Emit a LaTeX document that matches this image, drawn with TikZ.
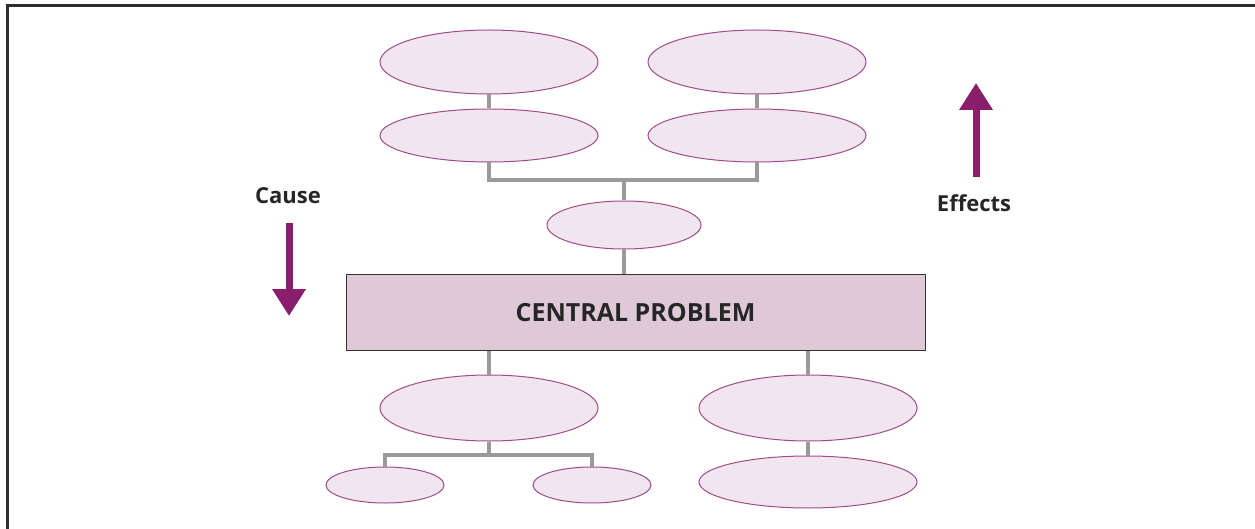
\documentclass[tikz,border=0pt]{standalone}
\usepackage{fontspec}
\setmainfont{Open Sans}
\usepackage{xcolor}
\usetikzlibrary{arrows.meta,shapes.geometric,positioning}

\definecolor{plum}{HTML}{8A1E6C}
\definecolor{plumline}{HTML}{A24B8A}
\definecolor{plumfill}{HTML}{F1E6EF}
\definecolor{boxfill}{HTML}{DFC9D6}
\definecolor{linkgrey}{HTML}{9A9A9C}
\definecolor{framegrey}{HTML}{2E2E2E}

\tikzset{
  bubble/.style={ellipse, draw=plumline, fill=plumfill, line width=1pt, inner sep=0pt},
  link/.style={draw=linkgrey, line width=3.5pt},
  bigarrow/.style={draw=plum, line width=7pt, -{Triangle[width=32pt,length=27pt]}},
  caption/.style={font=\bfseries\fontsize{22}{26}\selectfont, text=black!85}
}

\begin{document}
\begin{tikzpicture}[x=1pt,y=-1pt]
  \useasboundingbox (0,0) rectangle (1255,529);
  % frame
  \draw[framegrey, line width=2.5pt] (7.5,529) -- (7.5,5.5) -- (1255,5.5);

  % effects side
  \node[bubble, minimum width=218pt, minimum height=64pt] (e1) at (489,62) {};
  \node[bubble, minimum width=218pt, minimum height=64pt] (e2) at (757,62) {};
  \node[bubble, minimum width=218pt, minimum height=53pt] (e3) at (489,135.5) {};
  \node[bubble, minimum width=218pt, minimum height=53pt] (e4) at (757,135.5) {};
  \node[bubble, minimum width=154pt, minimum height=48pt] (e5) at (624,225) {};

  % central problem
  \node[draw=black!80, fill=boxfill, line width=1pt, minimum width=579pt, minimum height=75pt,
        font=\bfseries\fontsize{25}{30}\selectfont, text=black!85] (cp) at (635.5,312.5) {CENTRAL PROBLEM};

  % cause side
  \node[bubble, minimum width=218pt, minimum height=66pt] (c1) at (489,408) {};
  \node[bubble, minimum width=218pt, minimum height=66pt] (c2) at (808,408) {};
  \node[bubble, minimum width=118pt, minimum height=36pt] (c3) at (385,485) {};
  \node[bubble, minimum width=118pt, minimum height=36pt] (c4) at (592,485) {};
  \node[bubble, minimum width=218pt, minimum height=52pt] (c5) at (808,482) {};

  % links
  \path[link] (e1) -- (e3);
  \path[link] (e2) -- (e4);
  \path[link] (e3.south) |- (624,180) -| (e4.south);
  \path[link] (624,180) -- (e5.north);
  \path[link] (e5.south) -- (e5.south |- cp.north);
  \path[link] (c1.north) -- (c1.north |- cp.south);
  \path[link] (c2.north) -- (c2.north |- cp.south);
  \path[link] (c1.south) -- (489,455);
  \path[link] (c3.north) |- (489,455) -| (c4.north);
  \path[link] (c2) -- (c5);

  % direction arrows
  \node[caption] (cause) at (288,196) {Cause};
  \node[caption] (effects) at (974,203) {Effects};
  \coordinate (causetip) at (289,316);
  \coordinate (effectstip) at (976,83);
  \draw[bigarrow] (289,223) -- (causetip);
  \draw[bigarrow] (976,177) -- (effectstip);
\end{tikzpicture}
\end{document}
